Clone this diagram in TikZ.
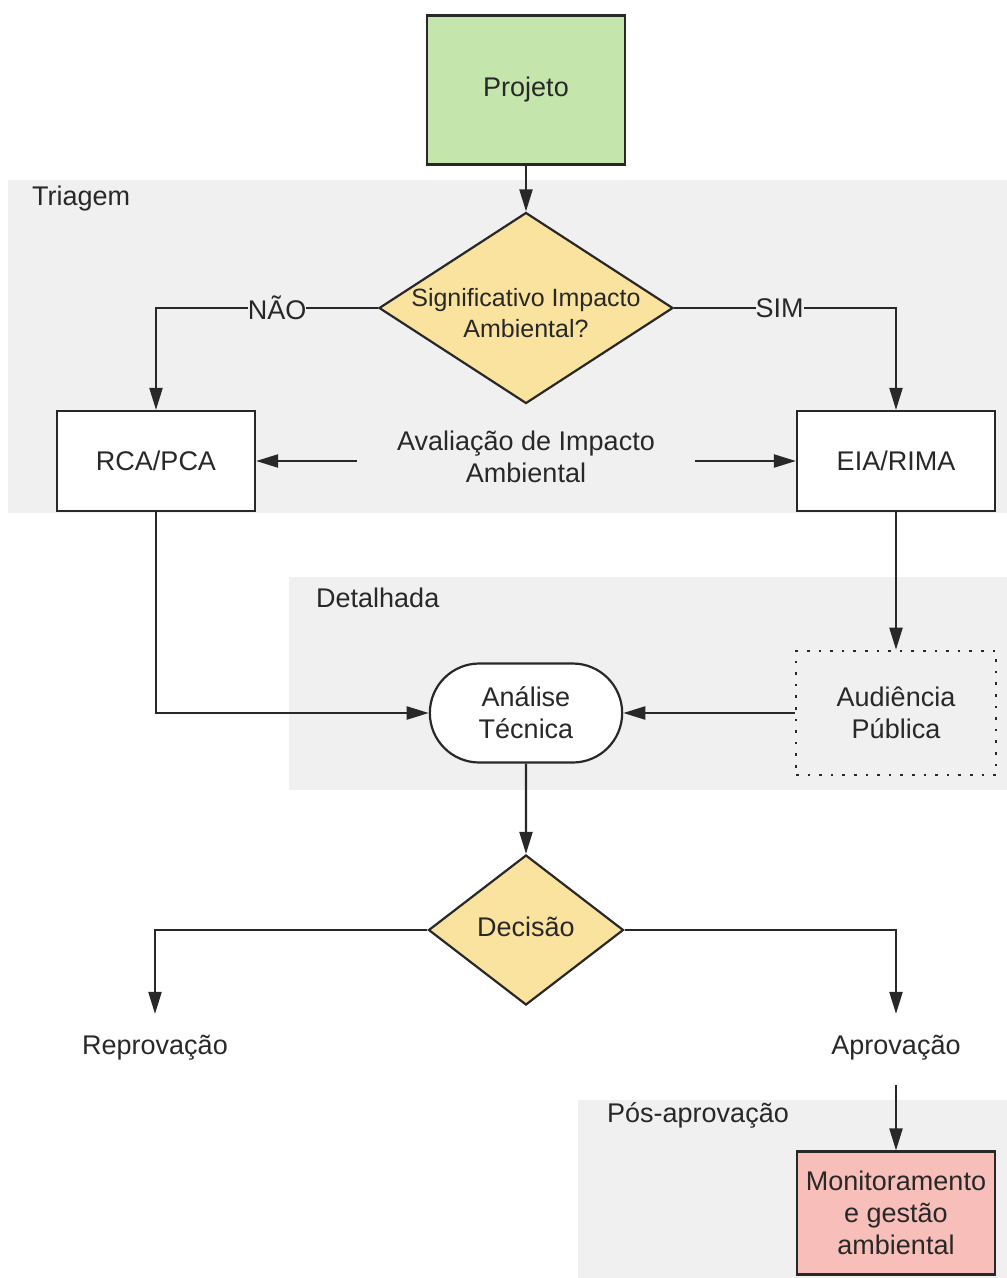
\documentclass[tikz,border=0pt]{standalone}
\usepackage{fontspec}
\setmainfont{Liberation Sans}
\usetikzlibrary{positioning,shapes.geometric,shapes.misc,arrows.meta}
\definecolor{verde}{RGB}{196,230,173}
\definecolor{amarelo}{RGB}{250,227,158}
\definecolor{rosa}{RGB}{248,190,185}
\definecolor{cinza}{RGB}{240,240,240}
\definecolor{escuro}{RGB}{40,40,40}

\begin{document}
\begin{tikzpicture}[x=1pt,y=-1pt,font=\fontsize{27}{32}\selectfont,text=escuro,
    caixa/.style={draw=escuro,line width=2.2pt,minimum width=198pt,minimum height=100pt,align=center,inner sep=2pt},
    losango/.style={diamond,draw=escuro,fill=amarelo,line width=2.2pt,inner sep=0pt},
    seta/.style={-{Triangle[length=22pt,width=13pt]},line width=2.2pt,draw=escuro},
    titulo/.style={anchor=west,inner sep=0pt}]
    \useasboundingbox (0,0) rectangle (1007,1278);
    % faixas cinzentas
    \fill[cinza] (8,180) rectangle (1007,513);
    \fill[cinza] (289,577) rectangle (1007,790);
    \fill[cinza] (578,1100) rectangle (1007,1278);
    \node[titulo] (triagem) at (32,199) {Triagem};
    \node[titulo] (detalhada) at (316,598) {Detalhada};
    \node[titulo] (pos) at (607,1115) {Pós-aprovação};

    \node[caixa,fill=verde,minimum height=149pt] (projeto) at (526,90) {Projeto};
    \node[losango,minimum width=294pt,minimum height=191pt] (impacto) at (526,308) {};
    \node[align=center,font=\fontsize{25}{31}\selectfont] (impactotxt) at (526,313) {Significativo Impacto\\Ambiental?};
    \node[caixa,fill=white] (rca) at (156,461) {RCA/PCA};
    \node[caixa,fill=white] (eia) at (896,461) {EIA/RIMA};
    \node[align=center] (aia) at (526,457) {Avaliação de Impacto\\Ambiental};

    \node[rounded rectangle,draw=escuro,fill=white,line width=2.2pt,minimum width=199pt,minimum height=99pt,align=center] (analise) at (526,713) {Análise\\Técnica};
    \node[caixa,line width=2.6pt,dash pattern=on 2.6pt off 9pt,minimum width=200pt,minimum height=124pt] (audiencia) at (896,713) {Audiência\\Pública};

    \node[losango,minimum width=195pt,minimum height=150pt] (decisao) at (526,930) {};
    \node (decisaotxt) at (526,927) {Decisão};
    \node (reprovacao) at (155,1048) {Reprovação};
    \node (aprovacao) at (896,1048) {Aprovação};
    \node[caixa,fill=rosa,minimum height=123pt] (monitor) at (896,1213) {Monitoramento\\e gestão\\ambiental};

    \draw[seta] (projeto) -- (impacto);
    \draw[seta] (impacto.west) -| node[pos=0.227,fill=cinza,inner sep=0pt] {NÃO} (rca.north);
    \draw[seta] (impacto.east) -| node[pos=0.238,fill=cinza,inner sep=0pt] {SIM} (eia.north);
    \draw[seta,shorten <=37pt] (aia.west |- rca.east) -- (rca.east);
    \draw[seta,shorten <=37pt] (aia.east |- eia.west) -- (eia.west);
    \draw[seta] (rca.south) |- (analise.west);
    \draw[seta] (eia.south) -- (audiencia.north);
    \draw[seta] (audiencia.west) -- (analise.east);
    \draw[seta] (analise) -- (decisao);
    \draw[seta,shorten >=18pt] (decisao.west) -| (reprovacao.north);
    \draw[seta,shorten >=18pt] (decisao.east) -| (aprovacao.north);
    \draw[seta,shorten <=21pt] (aprovacao) -- (monitor);
\end{tikzpicture}
\end{document}
